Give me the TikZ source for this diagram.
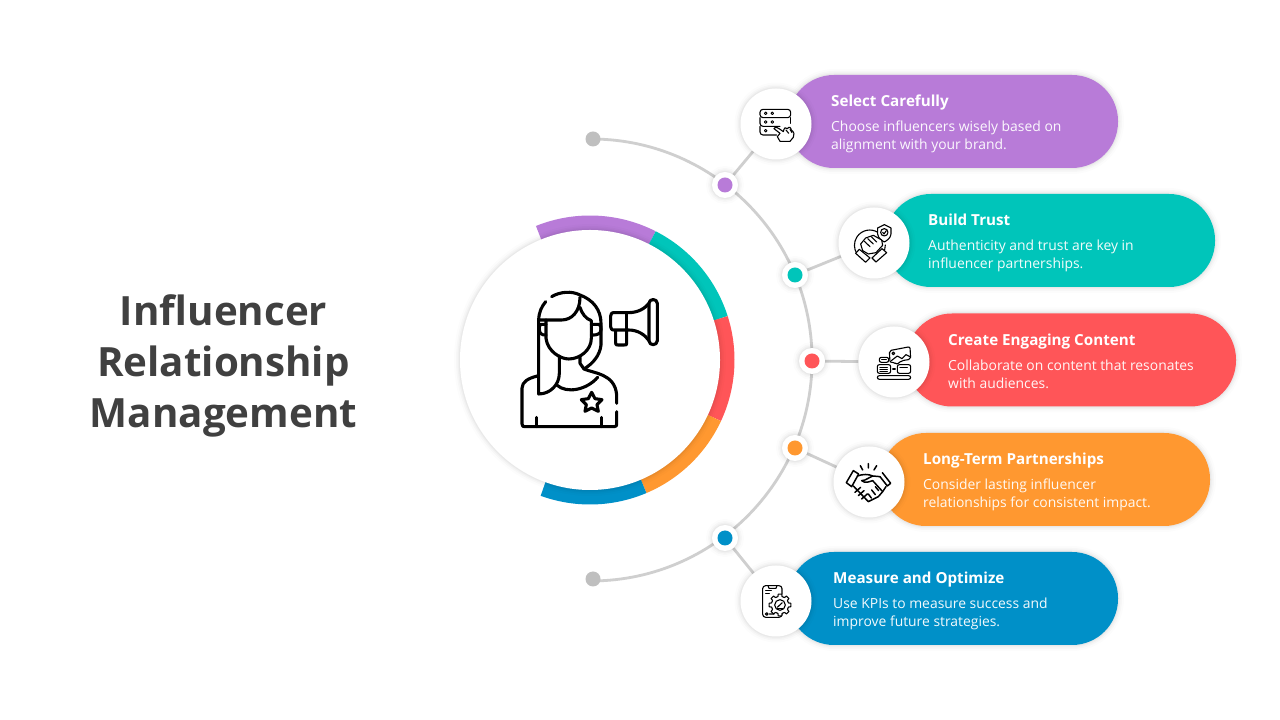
\documentclass[tikz,border=0pt]{standalone}
\usepackage{fontspec}
\setmainfont{Open Sans}
\usetikzlibrary{calc,backgrounds}
\definecolor{cpurple}{HTML}{B87BD8}
\definecolor{cteal}{HTML}{00C5BA}
\definecolor{cred}{HTML}{FF5558}
\definecolor{corange}{HTML}{FF9830}
\definecolor{cblue}{HTML}{0090C8}
\definecolor{cline}{HTML}{CFCFCF}
\definecolor{cdotg}{HTML}{BFBFBF}
\definecolor{ctitle}{HTML}{404040}
\tikzset{
  softshadow/.style={
    preaction={draw=black,draw opacity=.012,line width=12pt},
    preaction={draw=black,draw opacity=.018,line width=8pt},
    preaction={draw=black,draw opacity=.025,line width=5pt},
    preaction={draw=black,draw opacity=.03,line width=2.5pt}},
  pill/.style={rectangle,rounded corners=46pt,inner sep=0pt,minimum height=93pt,minimum width=330pt,softshadow},
  badge/.style={circle,fill=white,inner sep=0pt,minimum size=71pt,softshadow},
  hubdot/.style={circle,fill=white,inner sep=0pt,minimum size=26pt,softshadow},
  pip/.style={circle,inner sep=0pt,minimum size=15pt},
  linkline/.style={draw=cline,line width=2.8pt},
  ringseg/.style={line width=15pt},
  head/.style={anchor=base west,inner sep=0pt,text=white,font=\fontsize{15.2}{17}\selectfont\bfseries},
  body/.style={anchor=north west,inner sep=0pt,text=white,align=left,font=\fontsize{13.9}{18}\selectfont,opacity=.95},
  titletext/.style={align=center,inner sep=0pt,text=ctitle,font=\fontsize{40.3}{51}\selectfont\bfseries},
  ico/.style={draw=black,line width=1.1pt,line cap=round,line join=round},
  bigico/.style={draw=black,line width=3.1pt,line cap=round,line join=round},
}
\begin{document}
\begin{tikzpicture}[x=1pt,y=1pt]
\useasboundingbox (0,0) rectangle (1280,720);

% title
\node[titletext] (title) at (223.5,354) {Influencer\\Relationship\\Management};

% grey end dots
\node[pip,fill=cdotg] (arcstart) at (593,581) {};
\node[pip,fill=cdotg] (arcend) at (593,141) {};

% pills
\node[pill,fill=cpurple] (p1) at (953,598.5) {};
\node[pill,fill=cteal] (p2) at (1050,479.5) {};
\node[pill,fill=cred] (p3) at (1071,360) {};
\node[pill,fill=corange] (p4) at (1045,240.5) {};
\node[pill,fill=cblue] (p5) at (953,121.5) {};

% badges
\node[badge] (b1) at (776,596) {};
\node[badge] (b2) at (874,477) {};
\node[badge] (b3) at (894,358) {};
\node[badge] (b4) at (869,238) {};
\node[badge] (b5) at (776,119) {};

% hub dots
\node[hubdot] (h1) at (725,535) {};
\node[hubdot] (h2) at (795,445) {};
\node[hubdot] (h3) at (812,359) {};
\node[hubdot] (h4) at (795,272) {};
\node[hubdot] (h5) at (725,182) {};
\node[pip,fill=cpurple] (d1) at (h1) {};
\node[pip,fill=cteal] (d2) at (h2) {};
\node[pip,fill=cred] (d3) at (h3) {};
\node[pip,fill=corange] (d4) at (h4) {};
\node[pip,fill=cblue] (d5) at (h5) {};

% connectors, behind everything
\begin{scope}[on background layer]
\fill[white] (0,0) rectangle (1280,720);
\draw[linkline] (arcstart.center) arc[start angle=89.5,end angle=-89.5,radius=221];
\draw[linkline] (h1) -- (b1);
\draw[linkline] (h2) -- (b2);
\draw[linkline] (h3) -- (b3);
\draw[linkline] (h4) -- (b4);
\draw[linkline] (h5) -- (b5);
\end{scope}

% ring
\coordinate (hub) at (590,360);
\draw[ringseg,draw=cpurple] ($(hub)+(112:137)$) arc[start angle=112,end angle=63,radius=137];
\draw[ringseg,draw=cteal] ($(hub)+(63:137)$) arc[start angle=63,end angle=17.7,radius=137];
\draw[ringseg,draw=cred] ($(hub)+(17.7:137)$) arc[start angle=17.7,end angle=-25,radius=137];
\draw[ringseg,draw=corange] ($(hub)+(-25:137)$) arc[start angle=-25,end angle=-67,radius=137];
\draw[ringseg,draw=cblue] ($(hub)+(-67:137)$) arc[start angle=-67,end angle=-110,radius=137];
\node[circle,fill=white,inner sep=0pt,minimum size=260pt,softshadow] (centre) at (hub) {};

% texts
\node[head] (t1) at (831,613) {Select Carefully};
\node[body] (x1) at (831,599) {Choose influencers wisely based on\\alignment with your brand.};
\node[head] (t2) at (928,494) {Build Trust};
\node[body] (x2) at (928,480) {Authenticity and trust are key in\\influencer partnerships.};
\node[head] (t3) at (948,374.5) {Create Engaging Content};
\node[body] (x3) at (948,360) {Collaborate on content that resonates\\with audiences.};
\node[head] (t4) at (923,255) {Long-Term Partnerships};
\node[body] (x4) at (923,241) {Consider lasting influencer\\relationships for consistent impact.};
\node[head] (t5) at (833,136) {Measure and Optimize};
\node[body] (x5) at (833,122) {Use KPIs to measure success and\\improve future strategies.};

% main icon
\begin{scope}[shift={(500,450)},x=.3333pt,y=-.3333pt]
\draw[bigico] (155,80) .. controls (180,65) and (215,62) .. (240,75) .. controls (280,90) and (303,120) .. (303,160) -- (303,225) .. controls (300,255) and (280,280) .. (252,297);
\draw[bigico] (137,95) .. controls (125,110) and (117,125) .. (116,150) -- (116,372) .. controls (150,372) and (178,345) .. (178,310) -- (178,258);
\draw[bigico] (116,150) -- (185,150) .. controls (215,150) and (240,125) .. (240,82);
\draw[bigico] (240,112) .. controls (245,130) and (258,147) .. (274,152);
\draw[bigico] (138,150) -- (138,205) .. controls (143,245) and (182,267) .. (206,267) .. controls (240,267) and (274,240) .. (274,205) -- (274,152);
\draw[bigico] (138,163) -- (124,163) .. controls (119,163) and (118,168) .. (118,178) .. controls (118,190) and (125,196) .. (138,195);
\draw[bigico] (274,163) -- (295,163) .. controls (301,163) and (303,168) .. (303,178) .. controls (303,190) and (295,196) .. (274,195);
\draw[bigico] (240,262) -- (240,280) -- (252,297) .. controls (280,310) and (345,310) .. (350,375) -- (350,400);
\draw[bigico] (350,425) -- (350,462) .. controls (350,468) .. (343,470) -- (75,470) .. controls (68,470) .. (66,462) -- (66,355) .. controls (66,335) and (85,325) .. (112,318);
\draw[bigico] (170,345) .. controls (200,372) and (260,360) .. (293,322);
\draw[bigico] (110,442) -- (110,470) (305,442) -- (305,470);
\draw[bigico] (275,367) -- (285,386) -- (306,389) -- (291,404) -- (295,424) -- (275,414) -- (255,424) -- (259,404) -- (244,389) -- (265,386) -- cycle;
\draw[bigico] (345,128) -- (385,128) .. controls (415,128) and (435,115) .. (447,100);
\draw[bigico] (345,128) .. controls (335,128) .. (332,138) -- (332,170) .. controls (335,180) .. (345,180) -- (385,180) .. controls (415,180) and (435,195) .. (447,212);
\draw[bigico] (380,128) -- (380,180);
\draw[bigico] (347,182) -- (347,218) .. controls (347,225) .. (354,225) -- (372,225) .. controls (380,225) .. (380,218) -- (380,182);
\draw[bigico] (447,100) .. controls (447,85) and (472,85) .. (472,100) -- (472,212) .. controls (472,228) and (447,228) .. (447,212) -- cycle;
\end{scope}

% icon 1: server rows and pointing hand
\begin{scope}[shift={(700,640)},x=.3333pt,y=-.3333pt]
\draw[ico,rounded corners=3pt] (180,88) rectangle (272,113);
\draw[ico,rounded corners=3pt] (240,139) -- (180,139) -- (180,113);
\draw[ico,rounded corners=3pt] (180,139) -- (180,165) -- (230,165);
\draw[ico] (272,113) -- (272,130);
\foreach \p in {(197,100),(217,100),(197,126),(217,126),(197,152)} \draw[ico,line width=.9pt] \p circle (4);
\draw[ico,fill=white] (222,146) .. controls (226,138) and (232,142) .. (250,155) .. controls (252,142) and (258,140) .. (262,146) .. controls (268,138) and (272,142) .. (274,150) .. controls (282,155) and (285,165) .. (280,172) -- (270,184) -- (240,184) -- (232,170) -- (240,160) -- cycle;
\draw[ico] (258,150) -- (266,160) (270,148) -- (276,158);
\end{scope}

% icon 2: clasped hands and shield
\begin{scope}[shift={(700,640)},x=.3333pt,y=-.3333pt]
\draw[ico] (535,458) arc[start angle=-56,end angle=-215,radius=46];
\draw[ico] (556,495) arc[start angle=0,end angle=30,radius=46];
\draw[ico,fill=white] (553,434) -- (573,444) -- (573,462) .. controls (572,475) and (560,482) .. (553,486) .. controls (546,482) and (534,475) .. (533,462) -- (533,444) -- cycle;
\draw[ico] (553,457) circle (11);
\draw[ico] (548,457) -- (552,462) -- (559,452);
\draw[ico,fill=white] (482,492) -- (497,474) -- (520,466) -- (545,480) -- (548,496) -- (528,518) -- (505,522) -- (488,512) -- cycle;
\draw[ico] (493,484) -- (510,500) (503,476) -- (520,492) (514,470) -- (530,486);
\draw[ico,fill=white] (467,520) -- (478,508) -- (510,534) -- (497,547) -- cycle;
\draw[ico,fill=white] (528,546) -- (516,534) -- (546,506) -- (560,518) -- cycle;
\end{scope}

% icon 3: picture bubble and screens
\begin{scope}[shift={(800,400)},x=.3333pt,y=-.3333pt]
\draw[ico,rounded corners=2pt] (268,92) -- (330,80) -- (332,118) -- (305,122) -- (290,134) -- (283,126) -- (270,128) -- cycle;
\draw[ico] (280,100) circle (4);
\draw[ico] (274,122) -- (292,108) -- (306,116) -- (318,104) -- (330,110);
\draw[ico,rounded corners=2pt] (238,112) rectangle (266,127);
\draw[ico] (245,119) -- (259,119);
\draw[ico,rounded corners=2pt] (232,134) rectangle (272,160);
\draw[ico] (240,142) -- (262,142) (240,148) -- (262,148) (240,154) -- (262,154);
\draw[ico,rounded corners=2pt] (292,134) rectangle (332,160);
\draw[ico] (300,142) -- (322,142);
\draw[ico] (278,147) -- (286,147);
\draw[ico,rounded corners=2pt] (232,167) rectangle (332,178);
\end{scope}

% icon 4: handshake
\begin{scope}[shift={(800,400)},x=.3333pt,y=-.3333pt]
\draw[ico,line width=1.5pt] (205,431) -- (205,444) (181,437) -- (188,450) (230,437) -- (222,450);
\draw[ico,line width=1.5pt,fill=white] (139,488) -- (160,452) -- (176,462) -- (155,500) -- cycle;
\draw[ico,line width=1.5pt] (247,458) -- (272,490) -- (262,498) -- (240,470);
\draw[ico,line width=1.5pt] (172,468) .. controls (190,462) and (205,462) .. (218,468) -- (240,470);
\draw[ico,line width=1.5pt] (218,468) -- (195,480) -- (185,482) .. controls (195,492) and (210,484) .. (218,482) -- (248,515);
\draw[ico,line width=1.5pt] (258,500) -- (248,515) -- (235,530) -- (205,545) -- (160,498);
\draw[ico,line width=1.5pt] (182,502) -- (165,517) (192,512) -- (175,527) (202,522) -- (185,537);
\draw[ico,line width=1.5pt] (226,500) -- (236,512) (215,510) -- (226,524) (205,522) -- (214,534);
\end{scope}

% icon 5: phone and gear
\begin{scope}[shift={(700,200)},x=.3333pt,y=-.3333pt]
\draw[ico,rounded corners=3pt] (246,222) -- (246,197) -- (188,197) -- (188,292) -- (246,292) -- (246,285);
\draw[ico] (204,197) -- (207,205) -- (228,205) -- (231,197);
\draw[ico] (197,212) -- (214,212) (197,220) -- (208,220);
\draw[ico] (200,282) circle (4) (208,282) -- (222,282);
\foreach \a in {0,45,...,315} \draw[ico,fill=white] ($(240,255)+(\a-14:26)$) -- ($(240,255)+(\a-9:33)$) -- ($(240,255)+(\a+9:33)$) -- ($(240,255)+(\a+14:26)$);
\draw[fill=white,draw=none] (240,255) circle (26);
\foreach \a in {0,45,...,315} \draw[ico] ($(240,255)+(\a+14:26)$) arc[start angle=\a+14,end angle=\a+31,radius=26];
\draw[ico] (240,255) circle (16);
\draw[ico] (232,262) -- (247,248) (232,266) -- (248,266);
\end{scope}
\end{tikzpicture}
\end{document}
